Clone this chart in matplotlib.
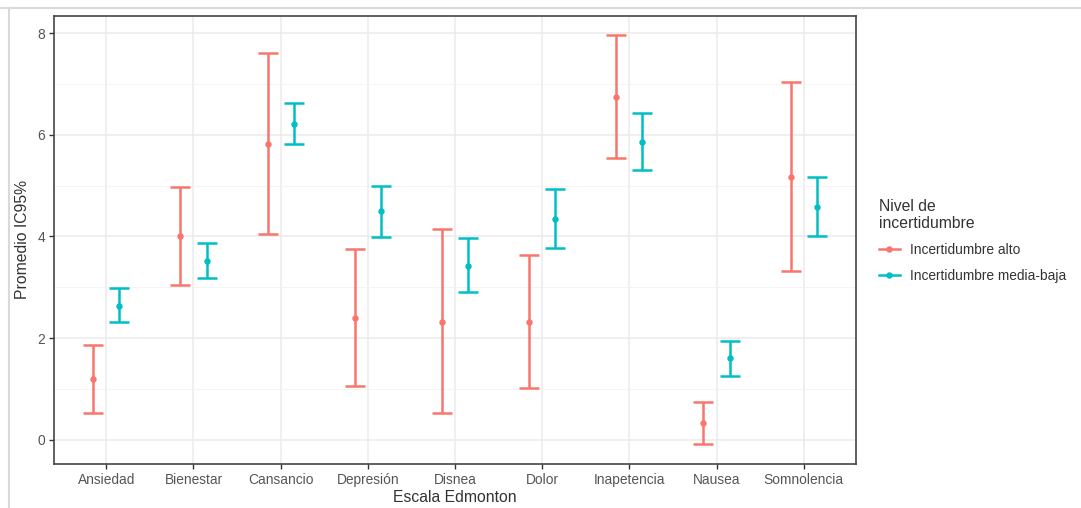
import numpy as np
import matplotlib
matplotlib.use("Agg")
import matplotlib.pyplot as plt
from matplotlib.lines import Line2D

plt.rcParams['font.family'] = ['Liberation Sans', 'DejaVu Sans']

# --- datos --- #
categorias = ["Ansiedad", "Bienestar", "Cansancio", "Depresión", "Disnea",
              "Dolor", "Inapetencia", "Nausea", "Somnolencia"]
grupos = ["Incertidumbre alto", "Incertidumbre media-baja"]

alto_media = [1.19, 4.00, 5.82, 2.40, 2.31, 2.31, 6.74, 0.32, 5.17]
alto_inf = [0.53, 3.04, 4.05, 1.06, 0.53, 1.02, 5.54, -0.08, 3.32]
alto_sup = [1.86, 4.98, 7.62, 3.75, 4.14, 3.64, 7.97, 0.74, 7.04]

baja_media = [2.64, 3.52, 6.22, 4.50, 3.42, 4.34, 5.86, 1.60, 4.58]
baja_inf = [2.31, 3.19, 5.82, 3.98, 2.90, 3.77, 5.30, 1.26, 4.01]
baja_sup = [2.99, 3.88, 6.62, 5.00, 3.96, 4.94, 6.43, 1.95, 5.18]

colores = ["#F8766D", "#00BFC4"]
# ---

fig = plt.figure(figsize=(10.81, 5.08), dpi=100)
ax = fig.add_axes([54 / 1081, 44 / 508, 802 / 1081, 448.5 / 508])

x = np.arange(len(categorias)) + 1
series = [(alto_media, alto_inf, alto_sup), (baja_media, baja_inf, baja_sup)]
offsets = [-0.15, 0.15]

for (media, inf, sup), off, col in zip(series, offsets, colores):
    media = np.array(media)
    yerr = [media - np.array(inf), np.array(sup) - media]
    ax.errorbar(x + off, media, yerr=yerr, fmt="o", color=col, ms=3.6,
                elinewidth=1.8, capsize=7.5, capthick=1.8, zorder=3)

ax.set_xlim(0.4, 9.6)
ax.set_ylim(-0.48, 8.35)
ax.set_xticks(x)
ax.set_xticklabels(categorias)
ax.set_yticks([0, 2, 4, 6, 8])
ax.set_yticks([1, 3, 5, 7], minor=True)
ax.tick_params(axis="both", which="major", length=3.5, width=1, color="#333333",
               labelcolor="#555555", labelsize=9.9, pad=3)
ax.tick_params(axis="y", which="minor", length=0)

ax.grid(True, which="major", color="#EBEBEB", linewidth=1.1, zorder=0)
ax.grid(True, which="minor", axis="y", color="#F2F2F2", linewidth=0.6, zorder=0)
ax.set_axisbelow(True)
for s in ax.spines.values():
    s.set_color("#444444")
    s.set_linewidth(1.2)

ax.set_xlabel("Escala Edmonton", fontsize=11.3, color="#333333", labelpad=2)
ax.set_ylabel("Promedio IC95%", fontsize=11.3, color="#333333", labelpad=5)

handles = [Line2D([0], [0], color=c, lw=1.8, marker="o", ms=3.6) for c in colores]
leg = fig.legend(handles, grupos, loc="upper left",
                 bbox_to_anchor=(879 / 1081, 1 - 199 / 508),
                 title="Nivel de\nincertidumbre", alignment="left",
                 frameon=False, fontsize=9.9, title_fontsize=11.3,
                 handlelength=1.5, handletextpad=0.75, labelspacing=0.85,
                 borderpad=0, borderaxespad=0)
for t in leg.get_texts():
    t.set_color("#333333")
leg.get_title().set_color("#333333")

# marco gris claro de la imagen original
fig.add_artist(Line2D([0, 1], [1 - 7.5 / 508] * 2, transform=fig.transFigure,
                      color="#D9D9D9", lw=1.5))
fig.add_artist(Line2D([9 / 1081] * 2, [0, 1 - 7.5 / 508], transform=fig.transFigure,
                      color="#D9D9D9", lw=1.5))

fig.savefig("out.png", dpi=100)
